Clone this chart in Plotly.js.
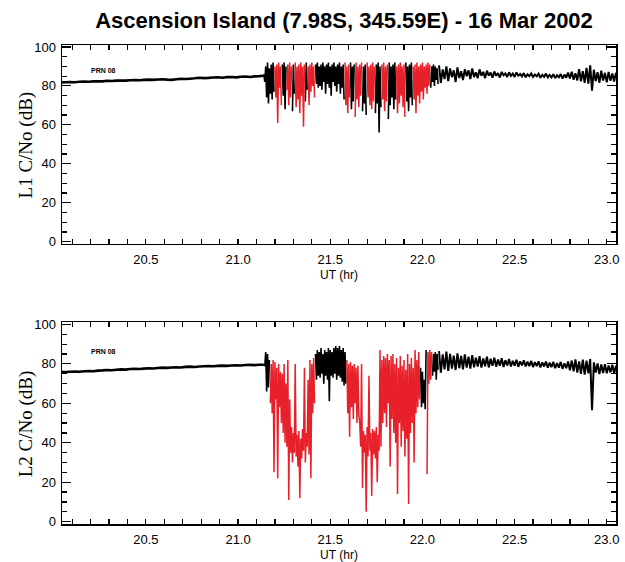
<!DOCTYPE html>
<html><head><meta charset="utf-8">
<script src="https://cdn.plot.ly/plotly-3.0.1.min.js"></script>
<style>html,body{margin:0;padding:0;background:#fff;} #chart{width:625px;height:562px;}</style>
</head><body><div id="chart"></div>
<script>
// ---------------- DATA ----------------
// Quiet segment (before scintillation), sampled every 0.025 h from 20.04 UT
const quietStart = 20.04, quietStep = 0.025;
const l1Quiet = [81.8,81.9,82.0,81.9,82.1,82.2,82.1,82.3,82.4,82.3,
  82.6,82.5,82.7,82.8,82.7,82.9,83.0,82.9,83.1,83.2,
  83.1,83.3,83.4,83.2,83.1,83.4,83.6,83.5,83.7,83.9,
  84.2,84.0,84.1,84.3,84.4,84.2,84.5,84.6,84.4,84.7,
  84.8,84.6,84.9,85.0,85.2];
const l2Quiet = [75.8,75.9,76.0,76.1,76.0,76.3,76.4,76.3,76.6,76.7,
  76.9,76.8,77.0,77.2,77.1,77.4,77.5,77.4,77.6,77.8,
  77.7,77.9,78.1,78.0,78.2,78.3,78.2,78.5,78.6,78.4,
  78.7,78.8,78.9,78.8,79.0,79.1,79.0,79.2,79.3,79.2,
  79.4,79.5,79.4,79.6,79.6];

// Scintillation segment, sampled every 0.005 h from 21.14 UT
const scintStart = 21.14, scintStep = 0.005;
const l1Scint = [86,82,90,74,92,71,89,76,91,73,
  92,77,90,74,91,61,92,79,90,70,
  91,75,92,68,90,78,91,70,92,74,
  90,67,91,76,92,69,90,73,91,66,
  92,75,90,59,91,72,92,78,90,70,
  91,77,92,80,90,74,91,81,92,79,
  90,80,91,78,92,82,90,76,91,81,
  92,79,90,75,91,82,92,80,90,77,
  91,81,92,76,90,79,91,73,92,70,
  90,66,91,74,92,68,90,72,91,64,
  92,73,90,69,91,75,92,67,90,71,
  91,65,92,74,90,70,91,68,92,72,
  90,66,91,71,92,56,90,69,91,73,
  92,67,90,72,91,63,92,70,90,74,
  91,68,92,73,90,66,91,71,92,75,
  90,69,91,64,92,72,90,67,91,74,
  92,70,90,73,91,66,92,75,90,71,
  91,77,92,73,90,79,91,76,92,80,
  91,79,90,82,91,80,90,83,89,81];
const l2Scint = [79.5,79,86,66,85,68,82,60,80,55,
  82,25,81,62,78,22,80,58,76,50,
  75,45,80,40,70,38,82,11,62,35,
  48,30,45,35,80,33,44,28,46,12,
  42,32,47,36,78,30,45,38,72,34,
  82,22,80,55,83,60,85,72,87,74,
  86,73,88,75,85,70,87,74,86,72,
  88,61,87,74,86,73,88,75,89,72,
  88,74,89,73,87,71,88,69,86,70,
  82,55,80,43,81,58,79,52,80,60,
  78,50,79,54,50,38,80,17,46,35,
  44,5,48,33,74,36,45,13,47,34,
  46,32,48,20,44,36,87,38,82,50,
  84,55,83,48,85,60,82,28,84,52,
  85,45,80,40,83,14,78,50,84,38,
  79,46,82,33,77,42,85,9,80,45,
  83,50,78,30,87,55,82,58,86,62,
  78,58,76,60,72,57,87,24,86,70,
  87,72,86,74,85,76,86,72,85,77];

// Recovery segment, sampled every 0.01 h from 22.09 UT
const tailStart = 22.09, tailStep = 0.01;
const l1Tail = [90.5,81.5,88.5,83.5,90,82.5,89,84.5,88,82,
  89.5,84,87.5,83,88.5,85,88,83.5,89,84.5,
  87,84,88.5,85.2,87.2,84,87.8,85.3,86.8,84.2,
  87.4,85.2,86.6,84.3,87.2,85.4,86.4,84.6,87,85.1,
  86.3,84.6,86.9,85.2,86.1,84.9,86.6,84.4,85.9,85,
  86.4,84.6,85.8,84.9,86.2,84.2,85.7,84.7,86.3,84.4,
  85.6,84.3,86,84,85.5,84.4,86.1,83.7,85.8,84.2,
  86.8,83.8,87.3,83.2,86.5,82.8,88.6,82.3,87.6,81.6,
  89.3,81.2,90.5,77.5,88.3,82.4,87,81.6,87.8,82.7,
  86.7,81.8,87.2,82.6,86.4,82.2,86.8];
const l2Tail = [86.5,75.5,84.8,77.2,86.2,76.4,85.1,77.6,84.2,76.9,
  85.3,77.8,84,77.2,84.8,78.1,83.7,77.6,84.4,78.3,
  83.2,78.6,83.9,78.1,82.8,78.8,83.6,78.2,82.6,79,
  83.1,78.6,82.2,79.1,82.9,78.4,81.9,79.2,82.5,78.7,
  81.6,79.1,82.1,78.5,81.3,79.2,81.8,78.7,81.1,78.9,
  81.5,78.4,80.9,78.9,81.3,78.2,80.7,78.7,81.2,78.1,
  80.6,78.3,81,77.8,80.4,78.1,81,77.5,80.3,77.8,
  81.2,76.8,81.7,76.2,82.3,75.6,81.3,74.9,82.2,74.6,
  81.6,75.2,82.4,56.5,80.8,75.6,80.2,74.8,79.7,75.4,
  79.9,75.2,79.2,75.7,79.6,75.1,79.1];

// Time intervals (UT h) flagged red
const l1RedIntervals = [[21.2,21.236],[21.263,21.29],[21.308,21.362],[21.38,21.416],
  [21.579,21.606],[21.633,21.67],[21.697,21.742],[21.778,21.814],[21.859,21.905],[21.95,22.04]];
const l2RedIntervals = [[21.172,21.417],[21.588,21.986],[22.022,22.05]];

const titleText = 'Ascension Island (7.98S, 345.59E) - 16 Mar 2002';
const yTitles = ['L1 C/No (dB)', 'L2 C/No (dB)'];
const xTitle = 'UT (hr)';
const prnLabel = 'PRN 08';

// ---------------- BUILD ----------------
function times(t0, dt, n){ const t=[]; for(let i=0;i<n;i++) t.push(+(t0+i*dt).toFixed(4)); return t; }
function isRed(t, iv){ return iv.some(([a,b]) => t>=a && t<=b); }

const BLACK = '#000000', RED = '#e8202a';
function panelTraces(quiet, scint, tail, red, xa, ya){
  const tq = times(quietStart, quietStep, quiet.length);
  const ts = times(scintStart, scintStep, scint.length);
  const tt = times(tailStart, tailStep, tail.length);
  const blk = scint.map((v,i) => isRed(ts[i], red) ? null : v);
  const rd = scint.map((v,i) => isRed(ts[i], red) ? v : null);
  const base = {type:'scatter', mode:'lines', xaxis:xa, yaxis:ya, hoverinfo:'skip', showlegend:false};
  return [
    Object.assign({}, base, {x:tq, y:quiet, line:{color:BLACK, width:2.6, simplify:false}}),
    Object.assign({}, base, {x:ts, y:blk, line:{color:BLACK, width:1.6, simplify:false}}),
    Object.assign({}, base, {x:ts, y:rd, line:{color:RED, width:1.5, simplify:false}}),
    Object.assign({}, base, {x:tt, y:tail, line:{color:BLACK, width:2, simplify:false}})
  ];
}

const data = [].concat(
  panelTraces(l1Quiet, l1Scint, l1Tail, l1RedIntervals, 'x', 'y'),
  panelTraces(l2Quiet, l2Scint, l2Tail, l2RedIntervals, 'x2', 'y2')
);

const tickFont = {family:'Liberation Sans, Arial, sans-serif', size:13, color:'#000'};
function xAxis(anchor){
  return {
    anchor: anchor, domain:[0,1], range:[20.045, 23.05],
    showline:true, linecolor:'#000', linewidth:1.5, mirror:'ticks',
    ticks:'inside', ticklen:5, tickwidth:1.2, tickcolor:'#000',
    tick0:20.5, dtick:0.5, tickformat:'.1f',
    minor:{dtick:0.1, ticks:'inside', ticklen:5, tickwidth:1.2, tickcolor:'#000', showgrid:false},
    showgrid:false, zeroline:false, tickfont:tickFont, ticklabelstandoff:3,
    title:{text:xTitle, font:{family:'Liberation Sans, Arial, sans-serif', size:12, color:'#000'}, standoff:4}
  };
}
function yAxis(anchor, domain){
  return {
    anchor: anchor, domain: domain, range:[-1.2, 101],
    showline:true, linecolor:'#000', linewidth:1.5, mirror:'ticks',
    ticks:'inside', ticklen:9, tickwidth:1.2, tickcolor:'#000',
    tick0:0, dtick:20,
    minor:{dtick:5, ticks:'inside', ticklen:5, tickwidth:1.2, tickcolor:'#000', showgrid:false},
    showgrid:false, zeroline:false, tickfont:tickFont, ticklabelstandoff:2
  };
}

const yTitleFont = {family:'Liberation Serif, Times New Roman, serif', size:19, color:'#000'};
const layout = {
  width:625, height:562,
  margin:{l:62, r:9, t:45, b:38},
  paper_bgcolor:'#fff', plot_bgcolor:'#fff',
  title:{text:titleText, x:0.5504, xref:'container', xanchor:'center', y:0.964, yref:'container', yanchor:'middle',
    font:{family:'Liberation Sans, Arial, sans-serif', size:22, color:'#000', weight:'bold'}},
  xaxis: xAxis('y'),
  yaxis: yAxis('x', [0.5846, 1]),
  xaxis2: xAxis('y2'),
  yaxis2: yAxis('x2', [0, 0.4207]),
  annotations:[
    {text:yTitles[0], textangle:-90, xref:'paper', yref:'paper', x:-0.065, y:0.7923, xanchor:'center', yanchor:'middle', showarrow:false, font:yTitleFont},
    {text:yTitles[1], textangle:-90, xref:'paper', yref:'paper', x:-0.065, y:0.2103, xanchor:'center', yanchor:'middle', showarrow:false, font:yTitleFont},
    {text:prnLabel, x:20.27, y:88, xref:'x', yref:'y', showarrow:false, font:{family:'Liberation Sans, Arial', size:7, color:'#000', weight:'bold'}},
    {text:prnLabel, x:20.27, y:86.5, xref:'x2', yref:'y2', showarrow:false, font:{family:'Liberation Sans, Arial', size:7, color:'#000', weight:'bold'}}
  ]
};

Plotly.newPlot('chart', data, layout, {staticPlot:true, displayModeBar:false});
</script>
</body></html>
